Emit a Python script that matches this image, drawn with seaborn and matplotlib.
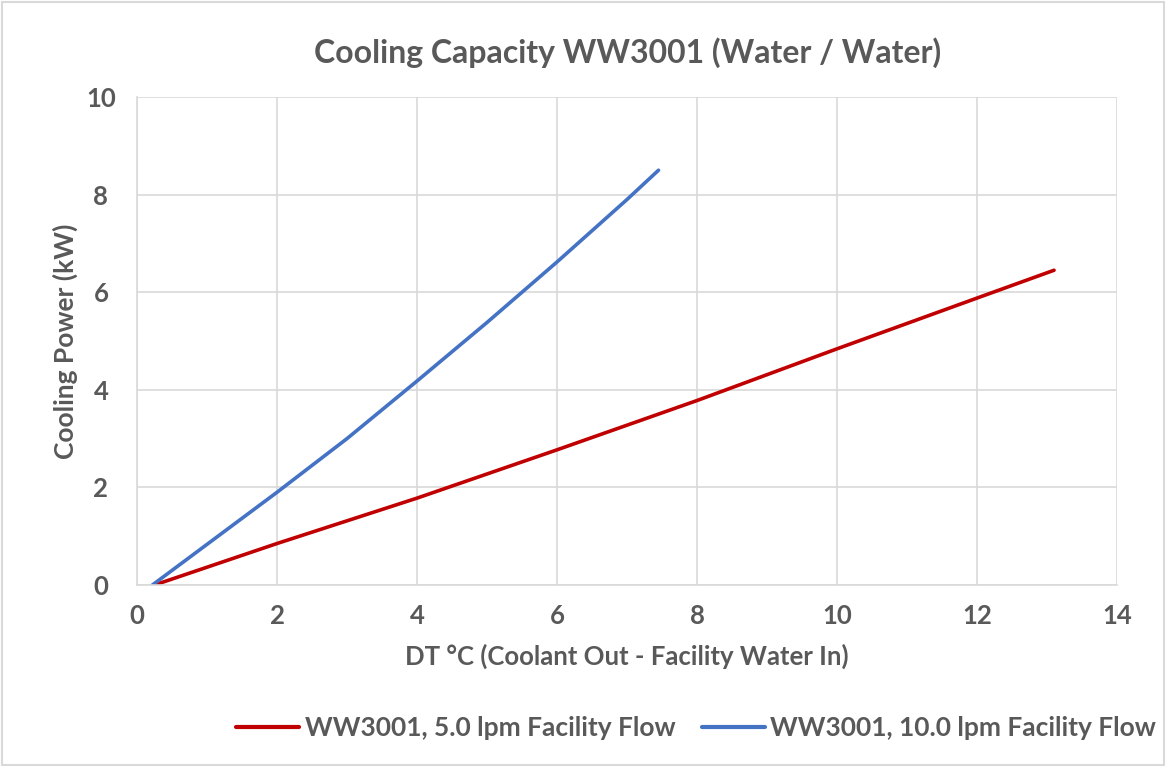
import numpy as np
import pandas as pd
import matplotlib
matplotlib.use("Agg")
import matplotlib.pyplot as plt
import seaborn as sns

# --- Data ---
dt_5lpm = [0.25, 2.0, 4.0, 6.0, 8.0, 10.0, 12.0, 13.1]
kw_5lpm = [0.0, 0.85, 1.78, 2.77, 3.78, 4.84, 5.88, 6.45]

dt_10lpm = [0.22, 2.0, 3.0, 4.0, 5.0, 6.0, 7.0, 7.45]
kw_10lpm = [0.0, 1.9, 3.0, 4.18, 5.38, 6.62, 7.9, 8.5]

labels = ["WW3001, 5.0 lpm Facility Flow", "WW3001, 10.0 lpm Facility Flow"]
colors = ["#C00000", "#4472C4"]

df = pd.concat([
    pd.DataFrame({"dt": dt_5lpm, "kw": kw_5lpm, "series": labels[0]}),
    pd.DataFrame({"dt": dt_10lpm, "kw": kw_10lpm, "series": labels[1]}),
], ignore_index=True)

# --- Style ---
sns.set_theme(style="whitegrid")
plt.rcParams['font.family'] = ['Lato', 'DejaVu Sans']
text_color = "#595959"
grid_color = "#D9D9D9"

fig = plt.figure(figsize=(11.66, 7.67), dpi=100)
ax = fig.add_axes([0.1175, 0.2373, 0.8405, 0.6362])

sns.lineplot(data=df, x="dt", y="kw", hue="series", palette=colors,
             linewidth=2.6, sort=False, estimator=None, ax=ax, legend=False)

ax.set_xlim(0, 14)
ax.set_ylim(0, 10)
ax.set_xticks(np.arange(0, 15, 2))
ax.set_yticks(np.arange(0, 11, 2))
ax.grid(True, color=grid_color, linewidth=1.2)
for side in ["top", "right"]:
    ax.spines[side].set_visible(False)
for side in ["left", "bottom"]:
    ax.spines[side].set_color(grid_color)
    ax.spines[side].set_linewidth(1.2)
ax.tick_params(axis="x", length=0, labelsize=18.5, labelcolor=text_color, pad=14)
ax.tick_params(axis="y", length=0, labelsize=18.5, labelcolor=text_color, pad=26)
for lbl in ax.get_yticklabels():
    lbl.set_horizontalalignment("center")
for lbl in ax.get_xticklabels() + ax.get_yticklabels():
    lbl.set_fontweight("bold")

ax.set_xlabel("DT °C (Coolant Out - Facility Water In)", fontsize=18.5, color=text_color,
              labelpad=11, fontweight="bold")
ax.set_ylabel("Cooling Power (kW)", fontsize=19, color=text_color, labelpad=6,
              fontweight="bold")
fig.text(0.538, 0.932, "Cooling Capacity WW3001 (Water / Water)", ha="center", va="center",
         fontsize=23, fontweight="bold", color=text_color)

handles = [plt.Line2D([], [], color=c, linewidth=3) for c in colors]
fig.legend(handles, labels, loc="center", bbox_to_anchor=(0.597, 0.051), ncol=2,
           frameon=False, prop={"size": 19, "weight": "bold"}, labelcolor=text_color,
           handlelength=2.4, handletextpad=0.2, columnspacing=1.0)

fig.patches.append(plt.Rectangle((0.002, 0.002), 0.996, 0.996, transform=fig.transFigure,
                                 fill=False, edgecolor="#D9D9D9", linewidth=1.5))

fig.savefig("out.png", dpi=100)
